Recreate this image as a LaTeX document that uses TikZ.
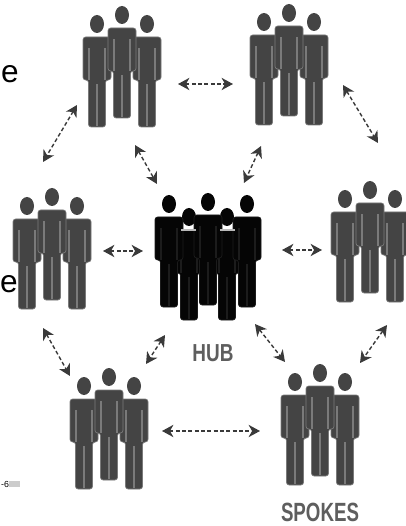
\documentclass[tikz,border=0pt]{standalone}
\usepackage{fontspec}
\setmainfont{Liberation Sans}
\usetikzlibrary{arrows.meta}
\definecolor{spokecol}{HTML}{444444}
\definecolor{spokeedge}{HTML}{7A7A7A}
\definecolor{hubcol}{HTML}{050505}
\definecolor{hubedge}{HTML}{1C1C1C}
\definecolor{linkcol}{HTML}{3A3A3A}
\definecolor{labelcol}{HTML}{5E5E5E}
\tikzset{
  groupbox/.style={minimum width=1.56cm,minimum height=2.4cm,inner sep=0pt},
  hubbox/.style={minimum width=2.14cm,minimum height=2.48cm,inner sep=0pt},
  link/.style={{Stealth[length=6.5pt,width=7pt,inset=2pt]}-{Stealth[length=6.5pt,width=7pt,inset=2pt]},dashed,dash pattern=on 2.2pt off 1.4pt,line width=0.8pt,color=linkcol},
  pics/person/.style 2 args={code={
    \fill[#1,draw=#2,line width=0.4pt,rounded corners=1.5pt] (-14,56) -- (-14,13) -- (14,13) -- (14,56) -- (8.5,56) -- (8.5,103) -- (-8.5,103) -- (-8.5,56) -- cycle;
    \fill[#1] (0,0) ellipse (7 and 9);
    \draw[#2,line width=0.6pt] (-8,24) -- (-8,56);
    \draw[#2,line width=0.6pt] (8,24) -- (8,56);
    \draw[#2,line width=0.6pt] (0,60) -- (0,102);
  }},
  pics/trio/.style={code={
    \pic at (-25,-43) {person={spokecol}{spokeedge}};
    \pic at (25,-43) {person={spokecol}{spokeedge}};
    \pic at (0,-52) {person={spokecol}{spokeedge}};
  }},
  pics/hubgroup/.style={code={
    \pic at (-19,-39) {person={hubcol}{hubedge}};
    \pic at (19,-39) {person={hubcol}{hubedge}};
    \pic at (-39,-52) {person={hubcol}{hubedge}};
    \pic at (39,-52) {person={hubcol}{hubedge}};
    \pic at (0,-54) {person={hubcol}{hubedge}};
    \draw[gray!55,line width=0.7pt] (-27,-26) -- (-12,-26);
    \draw[gray!55,line width=0.7pt] (12,-26) -- (27,-26);
  }},
}
\begin{document}
\begin{tikzpicture}[x=0.02cm,y=-0.02cm]
\useasboundingbox (0,0) rectangle (405,526);
% groups
\node[groupbox] (topleft) at (122,67) {};
\node[groupbox] (topright) at (289,65) {};
\node[groupbox] (left) at (52,249) {};
\node[groupbox] (right) at (370,242) {};
\node[groupbox] (botleft) at (109,429) {};
\node[groupbox] (botright) at (320,425) {};
\node[hubbox] (hub) at (208,256) {};
\foreach \g in {topleft,topright,left,right,botleft,botright}
  \pic at (\g) {trio};
\pic at (hub) {hubgroup};
% labels
\node[color=labelcol,font=\fontsize{14}{14}\selectfont\bfseries,xscale=0.77] (hublabel) at (213,353) {HUB};
\node[color=labelcol,font=\fontsize{15}{15}\selectfont\bfseries,xscale=0.71] (spokeslabel) at (320,512) {SPOKES};
\node[font=\fontsize{18}{18}\selectfont] (cuta) at (10,74) {e};
\node[font=\fontsize{18}{18}\selectfont] (cutb) at (9,284) {e};
\fill[gray!40] (9,481) rectangle (20,487);
\node[font=\fontsize{5}{5}\selectfont] (cutc) at (5,484) {-6};
% arrows
\draw[link] ([shift={(-45,38)}]topleft.center) -- ([shift={(-9,-87)}]left.center);
\draw[link] ([shift={(13,78)}]topleft.center) -- ([shift={(-51,-72)}]hub.center);
\draw[link] ([shift={(56,17)}]topleft.center) -- ([shift={(-56,19)}]topright.center);
\draw[link] ([shift={(54,20)}]topright.center) -- ([shift={(8,-99)}]right.center);
\draw[link] ([shift={(-28,81)}]topright.center) -- ([shift={(36,-73)}]hub.center);
\draw[link] ([shift={(51,2)}]left.center) -- ([shift={(-65,-5)}]hub.center);
\draw[link] ([shift={(74,-6)}]hub.center) -- ([shift={(-48,8)}]right.center);
\draw[link] ([shift={(-9,79)}]left.center) -- ([shift={(-39,-53)}]botleft.center);
\draw[link] ([shift={(-43,79)}]hub.center) -- ([shift={(37,-65)}]botleft.center);
\draw[link] ([shift={(47,68)}]hub.center) -- ([shift={(-35,-63)}]botright.center);
\draw[link] ([shift={(17,83)}]right.center) -- ([shift={(40,-62)}]botright.center);
\draw[link] ([shift={(53,2)}]botleft.center) -- ([shift={(-60,6)}]botright.center);
\end{tikzpicture}
\end{document}
